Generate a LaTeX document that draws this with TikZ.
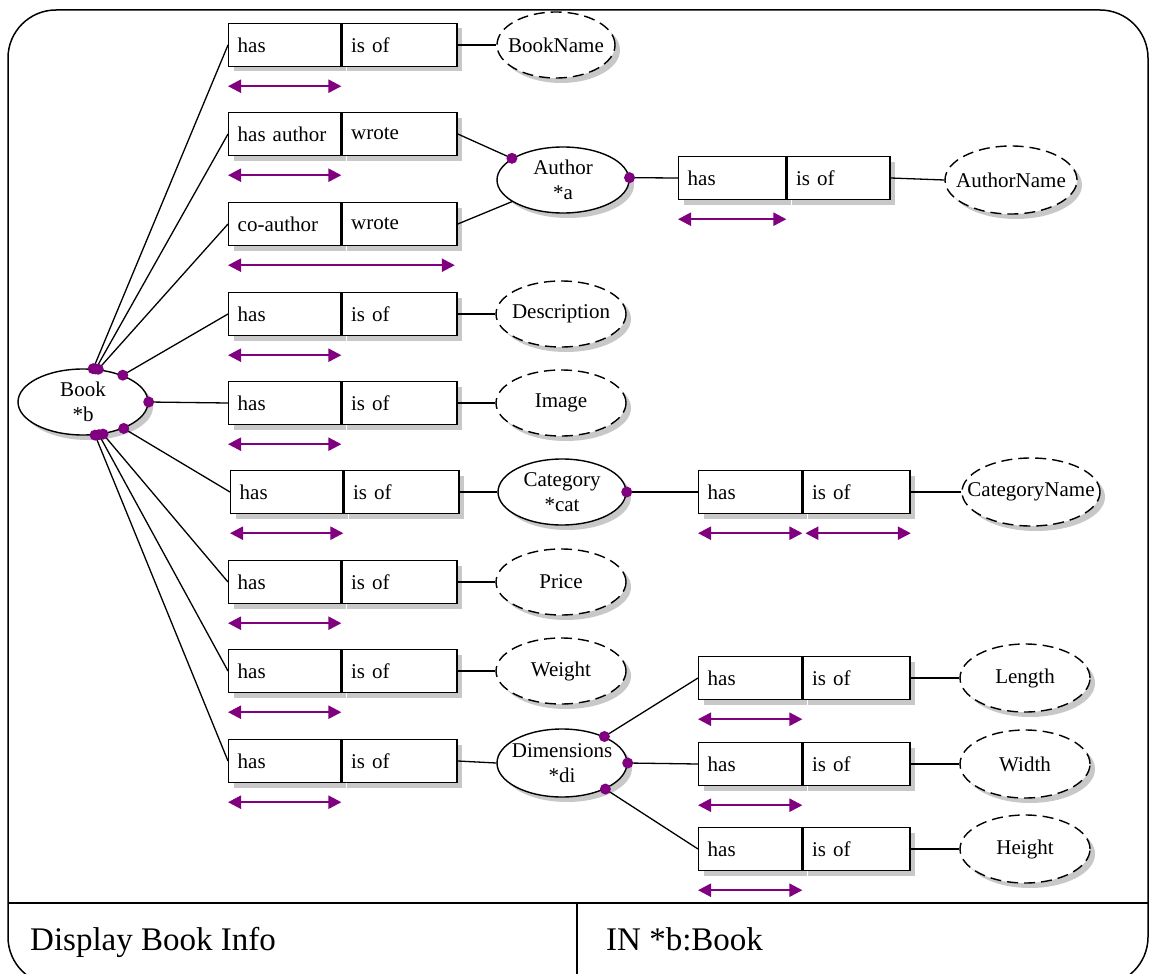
\documentclass[tikz,border=0pt]{standalone}
\usepackage{fontspec}
\setmainfont{Liberation Serif}
\usetikzlibrary{shapes.geometric,arrows.meta,shadows}
\definecolor{relpurple}{HTML}{800080}
\definecolor{shade}{HTML}{C8C8C8}
\newcommand\diagfont{\fontsize{21}{25}\selectfont}
\newcommand\footfont{\fontsize{33}{38}\selectfont}
% text that does not widen the shape around it
\newcommand\tight[1]{\makebox[0pt]{#1}}
\tikzset{
  shade box/.style={drop shadow={shadow xshift=5pt,shadow yshift=-5pt,fill=shade,opacity=1}},
  cell/.style={draw,line width=1.4pt,fill=white,minimum height=43pt,inner xsep=9pt,inner ysep=0pt,
    anchor=west,align=left,font=\diagfont,shade box},
  entity/.style={ellipse,draw,line width=1.4pt,fill=white,inner sep=0pt,align=center,font=\diagfont,shade box},
  attr/.style={entity,dash pattern=on 11pt off 6pt},
  link/.style={line width=1.3pt},
  span/.style={draw=relpurple,line width=2.3pt,{Triangle[length=13pt,width=13pt]}-{Triangle[length=13pt,width=13pt]}},
  dot/.style={fill=relpurple},
  frame/.style={line width=1.5pt},
}
% two-cell relation box: name, left x, centre y, text widths, texts
\newcommand\relbox[7]{%
  \node[cell,text width=#4] (#1a) at (#2,#3) {#6};
  \node[cell,text width=#5] (#1b) at (#1a.east) {#7};}
\begin{document}
\begin{tikzpicture}[x=1pt,y=-1pt]
\clip (0,0) rectangle (1151,974);
\fill[white] (0,0) rectangle (1151,974);

% outer frame and footer
\draw[frame,rounded corners=48pt] (8,10) rectangle (1148,985);
\draw[frame] (8,903) -- (1148,903);
\draw[frame] (577,903) -- (577,985);
\node[anchor=base west,font=\footfont,inner sep=0pt] (title) at (30,950) {Display Book Info};
\node[anchor=base west,font=\footfont,inner sep=0pt] (inputs) at (606,950) {IN *b:Book};

% entities
\node[entity,minimum width=130pt,minimum height=66pt] (book) at (83,402) {\tight{Book}\\\tight{*b}};
\node[entity,minimum width=132pt,minimum height=66pt] (author) at (563,180) {\tight{Author}\\\tight{*a}};
\node[entity,minimum width=128pt,minimum height=66pt] (category) at (562,492) {\tight{Category}\\\tight{*cat}};
\node[entity,minimum width=130pt,minimum height=68pt] (dims) at (562,763) {\tight{Dimensions}\\\tight{*di}};

% relation boxes
\relbox{r1}{228}{45}{94pt}{97pt}{has}{is of}
\relbox{r2}{228}{134}{94pt}{97pt}{has author}{wrote}
\relbox{r3}{228}{224}{94pt}{97pt}{co-author}{wrote}
\relbox{r4}{228}{314}{94pt}{97pt}{has}{is of}
\relbox{r5}{228}{403}{94pt}{97pt}{has}{is of}
\relbox{r6}{230}{492}{94pt}{97pt}{has}{is of}
\relbox{r7}{228}{582}{94pt}{97pt}{has}{is of}
\relbox{r8}{228}{671}{94pt}{97pt}{has}{is of}
\relbox{r9}{228}{761}{94pt}{97pt}{has}{is of}
\relbox{ra}{678}{178}{89pt}{85pt}{has}{is of}
\relbox{rc}{698}{492}{85pt}{89pt}{has}{is of}
\relbox{rl}{698}{678}{85pt}{89pt}{has}{is of}
\relbox{rw}{698}{764}{85pt}{89pt}{has}{is of}
\relbox{rh}{698}{849}{85pt}{89pt}{has}{is of}

% attributes
\node[attr,minimum width=118pt,minimum height=66pt] (bookname) at (556,45) {\tight{BookName}};
\node[attr,minimum width=130pt,minimum height=66pt] (description) at (561,314) {\tight{Description}};
\node[attr,minimum width=130pt,minimum height=66pt] (image) at (561,403) {\tight{Image}};
\node[attr,minimum width=130pt,minimum height=66pt] (price) at (561,582) {\tight{Price}};
\node[attr,minimum width=130pt,minimum height=66pt] (weight) at (561,671) {\tight{Weight}};
\node[attr,minimum width=132pt,minimum height=68pt] (authorname) at (1011,180) {\tight{AuthorName}};
\node[attr,minimum width=138pt,minimum height=68pt] (categoryname) at (1031,492) {\tight{CategoryName}};
\node[attr,minimum width=130pt,minimum height=68pt] (length) at (1025,678) {\tight{Length}};
\node[attr,minimum width=130pt,minimum height=68pt] (width) at (1025,764) {\tight{Width}};
\node[attr,minimum width=130pt,minimum height=68pt] (height) at (1025,849) {\tight{Height}};

% links from Book
\draw[link] (book.73) -- (r1a.west);
\draw[link] (book.69) -- (r2a.west);
\draw[link] (book.65) -- (r3a.west);
\draw[link] (book.34) -- (r4a.west);
\draw[link] (book.0) -- (r5a.west);
\draw[link] (book.-33) -- (r6a.west);
\draw[link] (book.-58) -- (r7a.west);
\draw[link] (book.-64) -- (r8a.west);
\draw[link] (book.-70) -- (r9a.west);

% links to attributes and entities
\draw[link] (r1b.east) -- (bookname.west);
\draw[link] (r2b.east) -- (author.157);
\draw[link] (r3b.east) -- (author.203);
\draw[link] (author.2) -- (raa.west);
\draw[link] (rab.east) -- (authorname.west);
\draw[link] (r4b.east) -- (description.west);
\draw[link] (r5b.east) -- (image.west);
\draw[link] (r6b.east) -- (category.west);
\draw[link] (category.0) -- (rca.west);
\draw[link] (rcb.east) -- (categoryname.west);
\draw[link] (r7b.east) -- (price.west);
\draw[link] (r8b.east) -- (weight.west);
\draw[link] (r9b.east) -- (dims.west);
\draw[link] (dims.32) -- (rla.west);
\draw[link] (dims.0) -- (rwa.west);
\draw[link] (dims.-31) -- (rha.west);
\draw[link] (rlb.east) -- (length.west);
\draw[link] (rwb.east) -- (width.west);
\draw[link] (rhb.east) -- (height.west);

% role markers
\foreach \a in {73,69,65,34,0,-33,-58,-64,-70}
  \fill[dot] (book.\a) circle[radius=5.5pt];
\fill[dot] (author.157) circle[radius=5.5pt];
\fill[dot] (author.2) circle[radius=5.5pt];
\fill[dot] (category.0) circle[radius=5.5pt];
\foreach \a in {32,0,-31}
  \fill[dot] (dims.\a) circle[radius=5.5pt];

% reading-direction spans
\foreach \r in {r1,r2,r4,r5,r6,r7,r8,r9,ra,rc,rl,rw,rh}
  \draw[span] ([yshift=-19pt]\r a.south west) -- ([yshift=-19pt]\r a.south east);
\draw[span] ([yshift=-19pt]r3a.south west) -- ([yshift=-19pt,xshift=-3pt]r3b.south east);
\draw[span] ([yshift=-19pt,xshift=3pt]rcb.south west) -- ([yshift=-19pt]rcb.south east);
\end{tikzpicture}
\end{document}
